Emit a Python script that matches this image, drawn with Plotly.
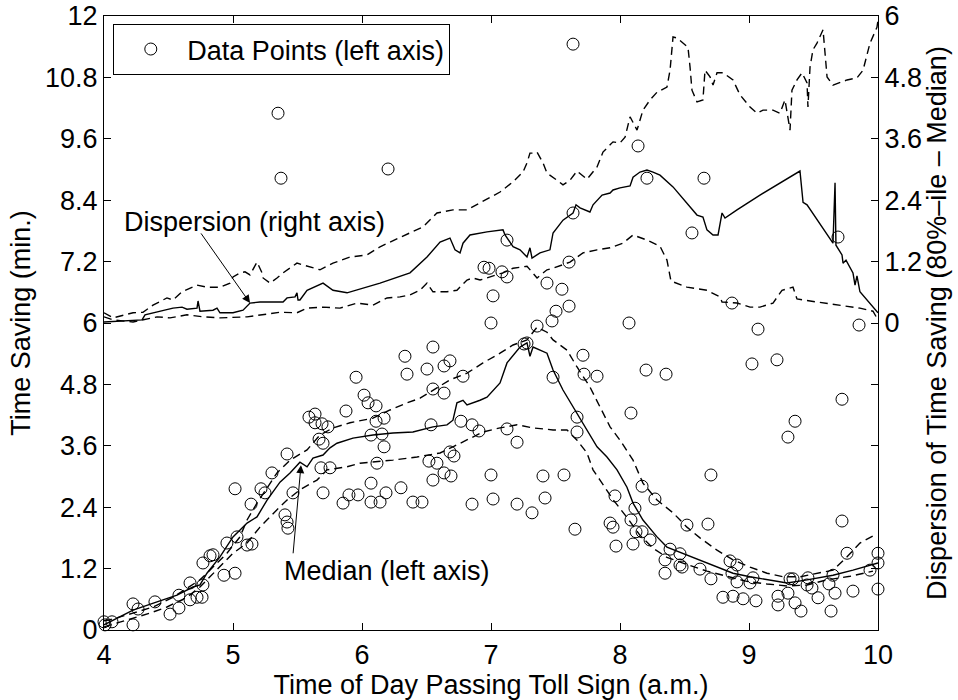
import plotly.graph_objects as go

FONT = "Liberation Sans, Arial, Helvetica, sans-serif"

# ---- scatter: (time of day, time saving in min) on left axis ----
data_points = [
    (7.636, 11.45), (5.349, 10.10), (5.372, 8.83), (6.202, 9.01), (8.140, 9.46),
    (8.209, 8.83), (8.651, 8.83), (8.558, 7.76), (9.690, 7.68), (8.868, 6.39),
    (9.070, 5.88), (9.853, 5.96), (8.070, 6.00), (7.124, 7.62), (7.636, 8.15),
    (8.202, 5.08), (8.357, 5.00), (9.023, 5.20), (9.217, 5.28), (9.721, 4.51),
    (8.085, 4.24), (9.357, 4.08), (9.302, 3.77), (8.705, 3.03),
    (6.946, 7.09), (6.985, 7.07), (7.085, 7.00), (7.124, 6.90), (7.605, 7.19),
    (7.434, 6.78), (7.550, 6.66), (7.016, 6.53), (7.605, 6.33), (7.504, 6.23),
    (7.473, 6.04), (7.000, 6.00), (7.357, 5.94), (7.256, 5.59), (7.279, 5.61),
    (6.550, 5.53), (6.333, 5.35), (6.682, 5.26), (6.504, 5.10), (6.636, 5.16),
    (6.349, 5.00), (6.783, 4.96), (5.954, 4.94), (7.713, 5.37), (7.721, 5.00),
    (7.822, 4.96), (7.481, 4.94), (6.550, 4.71), (6.636, 4.63), (6.016, 4.59),
    (6.047, 4.44), (6.109, 4.38), (5.876, 4.28), (5.589, 4.16), (5.636, 4.22),
    (5.636, 4.05), (5.690, 4.03), (5.736, 3.97), (6.109, 4.08), (6.171, 4.14),
    (6.767, 4.08), (6.853, 4.01), (6.907, 3.89), (7.124, 3.93), (7.667, 4.16),
    (7.667, 3.87), (7.202, 3.67), (6.070, 3.81), (6.155, 3.83), (6.171, 3.58),
    (5.667, 3.73), (5.698, 3.65), (6.535, 4.01), (6.682, 3.48), (6.713, 3.40),
    (6.116, 3.26), (6.519, 3.30), (6.581, 3.26), (5.682, 3.17), (5.752, 3.17),
    (6.636, 3.07), (7.000, 3.03), (7.403, 3.01), (7.566, 3.03), (5.419, 3.44),
    (6.690, 3.01), (6.550, 2.93), (6.070, 2.87), (5.698, 2.68), (5.899, 2.64),
    (5.969, 2.64), (6.186, 2.68), (6.302, 2.78), (5.853, 2.48), (6.070, 2.50),
    (6.140, 2.50), (6.395, 2.50), (6.465, 2.50), (6.853, 2.46), (7.016, 2.56),
    (7.202, 2.46), (7.318, 2.29), (7.419, 2.58), (7.651, 1.97), (7.923, 2.09),
    (7.946, 2.01), (7.969, 1.64), (7.961, 2.62),
    (8.171, 2.81), (8.271, 2.56), (8.116, 2.38), (8.085, 2.15), (8.101, 1.68),
    (8.124, 1.92), (8.171, 1.92), (8.233, 1.76), (8.519, 2.05), (8.682, 2.07),
    (9.721, 2.13), (8.388, 1.58), (8.465, 1.49), (8.349, 1.37), (8.349, 1.11),
    (8.465, 1.27), (8.481, 1.23), (8.620, 1.19), (8.705, 1.00), (8.853, 1.35),
    (8.907, 1.27), (8.868, 1.11), (8.907, 0.94), (9.008, 0.92), (9.031, 1.02),
    (8.798, 0.64), (8.876, 0.66), (8.954, 0.61), (9.054, 0.57), (9.225, 0.66),
    (9.225, 0.49), (9.302, 0.72), (9.318, 1.00), (9.341, 1.00), (9.357, 0.53),
    (9.403, 0.37), (9.450, 0.88), (9.457, 1.02), (9.488, 0.82), (9.535, 0.63),
    (9.636, 0.37), (9.667, 0.72), (9.620, 0.90), (9.651, 1.07), (9.760, 1.50),
    (9.806, 0.76), (9.938, 1.17), (10.0, 1.50), (10.0, 1.31), (10.0, 0.80),
    (4.0, 0.16), (4.008, 0.10), (4.062, 0.16), (4.225, 0.10), (4.225, 0.51),
    (4.264, 0.41), (4.395, 0.55), (4.512, 0.31), (4.581, 0.43), (4.581, 0.68),
    (4.667, 0.92), (4.667, 0.59), (4.721, 0.64), (4.760, 0.64), (4.767, 0.88),
    (4.767, 1.31), (4.822, 1.45), (4.845, 1.47), (4.930, 1.07), (5.016, 1.11),
    (4.953, 1.70), (5.031, 1.82), (5.109, 1.66), (5.147, 1.68), (5.140, 2.46),
    (5.016, 2.76), (5.217, 2.76), (5.248, 2.68), (5.302, 3.07), (5.403, 2.25),
    (5.419, 2.11), (5.426, 1.99), (5.465, 2.68),
]

# ---- left axis curves ----
median_left = [
    (4.0, 0.10), (4.047, 0.16), (4.225, 0.39), (4.411, 0.55), (4.566, 0.68),
    (4.690, 0.84), (4.744, 0.88), (4.798, 1.11), (4.899, 1.43), (5.000, 1.82),
    (5.109, 2.09), (5.186, 2.21), (5.264, 2.54), (5.364, 2.89), (5.442, 3.07),
    (5.519, 3.28), (5.574, 3.19), (5.620, 3.36), (5.698, 3.42), (5.752, 3.56),
    (5.806, 3.65), (5.930, 3.75), (6.085, 3.81), (6.240, 3.85), (6.395, 3.87),
    (6.550, 3.97), (6.659, 4.01), (6.705, 4.10), (6.736, 4.44), (6.783, 4.49),
    (6.814, 4.40), (6.915, 4.49), (6.969, 4.55), (7.070, 4.83), (7.124, 5.22),
    (7.225, 5.53), (7.279, 5.61), (7.302, 5.35), (7.326, 5.53), (7.434, 5.41),
    (7.481, 5.08), (7.558, 4.69), (7.667, 4.24), (7.744, 3.91), (7.822, 3.58),
    (7.899, 3.38), (7.977, 3.13), (8.054, 2.79), (8.101, 2.48), (8.178, 2.15),
    (8.287, 1.82), (8.364, 1.62), (8.488, 1.50), (8.620, 1.37), (8.752, 1.23),
    (8.876, 1.11), (9.008, 1.04), (9.140, 0.98), (9.295, 0.92), (9.450, 0.98),
    (9.651, 1.07), (9.806, 1.17), (10.0, 1.31),
]
pct80_left = [
    (4.0, 0.18), (4.047, 0.20), (4.225, 0.33), (4.380, 0.45), (4.535, 0.64),
    (4.643, 0.82), (4.744, 0.98), (4.845, 1.23), (4.953, 1.50), (5.054, 1.82),
    (5.109, 2.15), (5.186, 2.48), (5.264, 2.79), (5.341, 3.07), (5.442, 3.32),
    (5.574, 3.52), (5.674, 3.81), (5.775, 3.95), (5.907, 4.05), (6.085, 4.14),
    (6.217, 4.30), (6.349, 4.44), (6.450, 4.53), (6.550, 4.69), (6.682, 4.89),
    (6.814, 5.02), (6.938, 5.22), (7.070, 5.41), (7.171, 5.57), (7.279, 5.67),
    (7.357, 5.92), (7.434, 5.82), (7.481, 5.67), (7.589, 5.47), (7.667, 5.14),
    (7.767, 4.75), (7.845, 4.36), (7.923, 3.97), (8.000, 3.71), (8.101, 3.32),
    (8.178, 2.87), (8.287, 2.54), (8.411, 2.29), (8.519, 2.01), (8.620, 1.80),
    (8.752, 1.56), (8.876, 1.37), (9.008, 1.23), (9.140, 1.11), (9.264, 1.04),
    (9.395, 1.04), (9.527, 1.11), (9.651, 1.17), (9.760, 1.43), (9.860, 1.70),
    (9.977, 1.86),
]
pct20_left = [
    (4.0, 0.06), (4.101, 0.14), (4.357, 0.33), (4.488, 0.45), (4.643, 0.64),
    (4.744, 0.84), (4.876, 1.17), (5.000, 1.50), (5.109, 1.70), (5.209, 2.01),
    (5.341, 2.35), (5.419, 2.54), (5.519, 2.74), (5.651, 2.93), (5.729, 3.13),
    (5.884, 3.19), (5.984, 3.26), (6.240, 3.32), (6.426, 3.38), (6.605, 3.46),
    (6.705, 3.58), (6.814, 3.71), (6.938, 3.87), (7.070, 3.95), (7.202, 4.01),
    (7.326, 3.95), (7.481, 3.91), (7.589, 3.91), (7.667, 3.71), (7.744, 3.46),
    (7.791, 3.13), (7.845, 2.93), (7.946, 2.55), (8.054, 2.20), (8.155, 1.85),
    (8.256, 1.60), (8.364, 1.42), (8.519, 1.28), (8.674, 1.15), (8.829, 1.05),
    (8.984, 0.95), (9.140, 0.90), (9.295, 0.86), (9.450, 0.88), (9.605, 0.98),
    (9.783, 1.05), (9.961, 1.15),
]

# ---- right axis: dispersion (80%-ile - median) ----
disp_mid_right = [
    (4.0, 0.02), (4.295, 0.06), (4.318, 0.16), (4.535, 0.29), (4.605, 0.31),
    (4.643, 0.27), (4.721, 0.29), (4.729, 0.43), (4.744, 0.23), (4.845, 0.25),
    (4.876, 0.29), (4.899, 0.20), (5.000, 0.20), (5.078, 0.25), (5.132, 0.39),
    (5.209, 0.41), (5.388, 0.41), (5.419, 0.49), (5.481, 0.51), (5.496, 0.59),
    (5.504, 0.45), (5.519, 0.45), (5.574, 0.64), (5.698, 0.78), (5.775, 0.64),
    (5.884, 0.59), (6.140, 0.78), (6.372, 0.98), (6.504, 1.29), (6.605, 1.58),
    (6.682, 1.66), (6.721, 1.43), (6.760, 1.37), (6.783, 1.56), (6.837, 1.72),
    (6.915, 1.76), (6.969, 1.78), (7.093, 1.82), (7.109, 1.72), (7.171, 1.49),
    (7.225, 1.43), (7.279, 1.29), (7.302, 1.47), (7.318, 1.27), (7.380, 1.37),
    (7.457, 1.43), (7.481, 1.76), (7.558, 2.01), (7.636, 2.15), (7.659, 2.31),
    (7.690, 2.25), (7.767, 2.17), (7.791, 2.31), (7.861, 2.50), (7.923, 2.54),
    (7.946, 2.60), (8.000, 2.64), (8.078, 2.68), (8.101, 2.85), (8.155, 2.95),
    (8.209, 2.99), (8.256, 2.95), (8.310, 2.89), (8.411, 2.66), (8.543, 2.27),
    (8.597, 2.11), (8.643, 2.07), (8.674, 1.82), (8.721, 1.72), (8.760, 1.72),
    (8.791, 2.15), (8.814, 2.05), (8.907, 2.21), (9.085, 2.50), (9.395, 2.97),
    (9.419, 2.36), (9.450, 2.31), (9.651, 1.56), (9.667, 2.74), (9.674, 1.52),
    (9.721, 1.33), (9.729, 1.17), (9.752, 1.23), (9.806, 0.98), (9.822, 0.74),
    (9.837, 0.92), (9.860, 0.61), (9.938, 0.39), (10.0, 0.20),
]
disp_hi_right = [
    (4.0, 0.20), (4.070, 0.10), (4.225, 0.20), (4.302, 0.21), (4.380, 0.35),
    (4.488, 0.49), (4.535, 0.45), (4.605, 0.61), (4.721, 0.74), (4.798, 0.70),
    (4.899, 0.70), (4.977, 0.78), (5.000, 0.90), (5.054, 0.98), (5.093, 1.00),
    (5.132, 0.94), (5.186, 1.19), (5.225, 0.98), (5.233, 0.88), (5.287, 0.78),
    (5.341, 0.88), (5.388, 0.98), (5.496, 1.17), (5.597, 1.09), (5.674, 1.04),
    (5.775, 1.17), (5.907, 1.29), (6.039, 1.33), (6.140, 1.49), (6.217, 1.58),
    (6.372, 1.76), (6.473, 1.88), (6.581, 2.15), (6.705, 2.21), (6.814, 2.21),
    (6.915, 2.35), (6.992, 2.46), (7.070, 2.56), (7.171, 2.76), (7.248, 2.95),
    (7.279, 3.13), (7.302, 3.32), (7.326, 3.32), (7.357, 3.34), (7.403, 3.13),
    (7.434, 2.93), (7.512, 2.79), (7.558, 2.70), (7.612, 2.79), (7.667, 2.97),
    (7.744, 2.81), (7.822, 3.05), (7.868, 3.34), (7.946, 3.54), (8.000, 3.52),
    (8.039, 3.63), (8.078, 4.03), (8.132, 3.77), (8.178, 4.16), (8.233, 4.36),
    (8.287, 4.51), (8.364, 4.61), (8.388, 4.94), (8.411, 5.59), (8.442, 5.57),
    (8.527, 5.39), (8.543, 5.00), (8.558, 4.55), (8.597, 4.32), (8.643, 4.36),
    (8.659, 4.94), (8.698, 4.81), (8.721, 4.65), (8.752, 4.89), (8.798, 4.89),
    (8.876, 4.75), (8.930, 4.46), (9.008, 4.22), (9.062, 4.10), (9.109, 4.16),
    (9.186, 4.16), (9.240, 4.10), (9.279, 4.36), (9.295, 4.10), (9.318, 3.77),
    (9.333, 4.55), (9.372, 4.75), (9.411, 4.89), (9.450, 4.69), (9.457, 4.22),
    (9.473, 5.00), (9.496, 5.34), (9.527, 5.47), (9.574, 5.73), (9.605, 4.81),
    (9.651, 4.65), (9.760, 4.75), (9.837, 4.79), (9.884, 4.94), (9.938, 5.47),
    (9.992, 5.78), (10.0, 5.92),
]
disp_lo_right = [
    (4.0, 0.12), (4.070, 0.06), (4.225, 0.02), (4.302, 0.06), (4.411, 0.12),
    (4.512, 0.10), (4.643, 0.16), (4.767, 0.12), (4.899, 0.10), (5.109, 0.12),
    (5.233, 0.16), (5.364, 0.21), (5.496, 0.20), (5.574, 0.29), (5.698, 0.31),
    (5.829, 0.29), (5.961, 0.39), (6.085, 0.35), (6.194, 0.49), (6.295, 0.51),
    (6.372, 0.55), (6.450, 0.64), (6.504, 0.78), (6.550, 0.61), (6.659, 0.61),
    (6.736, 0.64), (6.814, 0.84), (6.860, 0.88), (6.915, 0.84), (6.992, 0.90),
    (7.093, 0.98), (7.171, 1.07), (7.279, 1.11), (7.357, 0.88), (7.434, 1.04),
    (7.481, 1.07), (7.612, 1.19), (7.713, 1.37), (7.822, 1.43), (7.923, 1.47),
    (8.023, 1.56), (8.101, 1.72), (8.209, 1.62), (8.310, 1.50), (8.364, 1.23),
    (8.395, 0.82), (8.519, 0.70), (8.674, 0.64), (8.775, 0.51), (8.791, 0.41),
    (8.907, 0.39), (9.008, 0.31), (9.085, 0.31), (9.186, 0.39), (9.256, 0.64),
    (9.341, 0.70), (9.372, 0.47), (9.527, 0.41), (9.705, 0.35), (9.860, 0.29),
    (9.961, 0.23), (10.0, 0.06),
]

x_ticks = [4, 5, 6, 7, 8, 9, 10]
left_ticks = [0, 1.2, 2.4, 3.6, 4.8, 6, 7.2, 8.4, 9.6, 10.8, 12]
left_tick_text = ["0", "1.2", "2.4", "3.6", "4.8", "6", "7.2", "8.4", "9.6", "10.8", "12"]
right_ticks = [0, 1.2, 2.4, 3.6, 4.8, 6]
right_tick_text = ["0", "1.2", "2.4", "3.6", "4.8", "6"]


def unzip(pairs):
    return [p[0] for p in pairs], [p[1] for p in pairs]


fig = go.Figure()

sx, sy = unzip(data_points)
fig.add_trace(go.Scatter(
    x=sx, y=sy, mode="markers", name="Data Points (left axis)",
    marker=dict(symbol="circle-open", size=12, color="black", line=dict(width=1, color="black")),
    cliponaxis=False,
))

DASH = "8px,5px"
for pairs, dash, axis in [
    (median_left, "solid", "y"),
    (pct80_left, DASH, "y"),
    (pct20_left, DASH, "y"),
    (disp_mid_right, "solid", "y2"),
    (disp_hi_right, DASH, "y2"),
    (disp_lo_right, DASH, "y2"),
]:
    lx, ly = unzip(pairs)
    fig.add_trace(go.Scatter(
        x=lx, y=ly, mode="lines", yaxis=axis, showlegend=False,
        line=dict(color="black", width=1.4, dash=dash),
    ))

FS = 27
axis_common = dict(
    showgrid=False, zeroline=False, showline=True, linecolor="black", linewidth=1.3,
    ticks="inside", ticklen=7, tickwidth=1, tickcolor="black",
    tickfont=dict(family=FONT, size=FS, color="black"),
    ticklabeloverflow="allow",
)

fig.update_layout(
    width=958, height=700,
    margin=dict(l=104, r=80, t=16, b=70, autoexpand=False),
    paper_bgcolor="white", plot_bgcolor="white",
    font=dict(family=FONT, size=FS, color="black"),
    xaxis=dict(
        range=[4, 10], tickvals=x_ticks, ticktext=[str(v) for v in x_ticks], mirror="ticks",
        title=dict(text="Time of Day Passing Toll Sign (a.m.)", font=dict(family=FONT, size=FS), standoff=2),
        **axis_common,
    ),
    yaxis=dict(
        range=[0, 12], tickvals=left_ticks, ticktext=left_tick_text, mirror="ticks",
        title=dict(text="Time Saving (min.)", font=dict(family=FONT, size=FS), standoff=6),
        **axis_common,
    ),
    yaxis2=dict(
        range=[-6, 6], tickvals=right_ticks, ticktext=right_tick_text,
        overlaying="y", side="right", anchor="x",
        title=dict(text="Dispersion of Time Saving (80%\u2013ile \u2013 Median)", font=dict(family=FONT, size=FS), standoff=6),
        **axis_common,
    ),
    legend=dict(
        x=0.012, y=0.987, xanchor="left", yanchor="top",
        bordercolor="black", borderwidth=1, bgcolor="white", itemwidth=63,
        font=dict(family=FONT, size=FS, color="black"),
    ),
    showlegend=True,
)

fig.add_annotation(
    x=5.163, y=7.97, xref="x", yref="y", text="Dispersion (right axis)",
    showarrow=False, font=dict(family=FONT, size=FS, color="black"),
)
fig.add_annotation(
    x=5.132, y=6.39, xref="x", yref="y", ax=4.744, ay=7.78, axref="x", ayref="y",
    text="", showarrow=True, arrowhead=2, arrowsize=1.6, arrowwidth=1, arrowcolor="black",
)
fig.add_annotation(
    x=6.194, y=1.15, xref="x", yref="y", text="Median (left axis)",
    showarrow=False, font=dict(family=FONT, size=FS, color="black"),
)
fig.add_annotation(
    x=5.527, y=3.22, xref="x", yref="y", ax=5.465, ay=1.47, axref="x", ayref="y",
    text="", showarrow=True, arrowhead=2, arrowsize=1.6, arrowwidth=1, arrowcolor="black",
)

# remove the browser's default 8px page margin so the 958x700 figure fills the window exactly
fig.write_html(
    "out.html",
    config={"displayModeBar": False},
    post_script="document.body.style.margin='0';document.body.style.overflow='hidden';",
)
